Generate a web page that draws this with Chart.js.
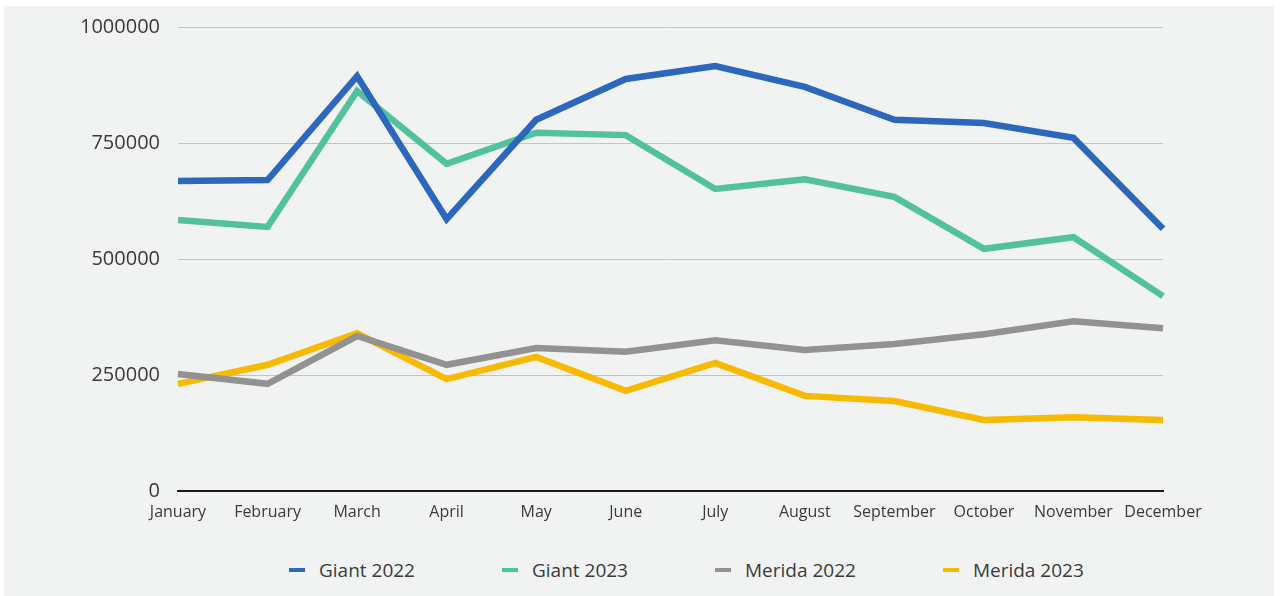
<!DOCTYPE html>
<html>
<head>
<meta charset="utf-8">
<script src="https://cdn.jsdelivr.net/npm/chart.js@4"></script>
<style>
  html, body { margin: 0; padding: 0; background: #ffffff; }
  #panel { position: absolute; left: 4px; top: 6px; width: 1270px; height: 590px; background: #f1f2f2; }
  #wrap { position: absolute; left: 0; top: 0; width: 1270px; height: 530px; }
  #legend { position: absolute; top: 551px; left: 285px; display: flex; font-family: "Open Sans", sans-serif; font-size: 19px; color: #3a3a3a; }
  .item { display: flex; align-items: center; margin-right: 87px; }
  .dash { width: 16px; height: 4px; margin-right: 14px; }
</style>
</head>
<body>
<div id="panel">
  <div id="wrap"><canvas id="grafico"></canvas></div>
  <div id="legend"></div>
</div>
<script>
var meses = ["January", "February", "March", "April", "May", "June", "July", "August", "September", "October", "November", "December"];
var giant2022 = [668000, 670000, 894000, 586000, 800000, 888000, 916000, 871000, 800000, 793000, 761000, 565000];
var giant2023 = [584000, 569000, 862000, 705000, 772000, 767000, 651000, 672000, 634000, 522000, 547000, 420000];
var merida2022 = [252000, 231000, 334000, 272000, 308000, 300000, 325000, 304000, 317000, 338000, 366000, 351000];
var merida2023 = [231000, 272000, 340000, 241000, 289000, 216000, 276000, 205000, 194000, 153000, 159000, 153000];
var nomes = ["Giant 2022", "Giant 2023", "Merida 2022", "Merida 2023"];
var cores = ["#2d66bd", "#52c19f", "#929292", "#f7ba00"];
var valoresY = [0, 250000, 500000, 750000, 1000000];

var series = [giant2022, giant2023, merida2022, merida2023];
var datasets = series.map(function(valores, i) {
    return {
        label: nomes[i],
        data: valores,
        borderColor: cores[i],
        backgroundColor: cores[i],
        borderWidth: 6.5,
        borderJoinStyle: "miter",
        pointRadius: 0,
        tension: 0,
        fill: false
    };
});

var ctx = document.getElementById("grafico").getContext("2d");
var myLineChart = new Chart(ctx, {
    type: "line",
    data: { labels: meses, datasets: datasets },
    options: {
        responsive: true,
        maintainAspectRatio: false,
        animation: false,
        layout: { padding: { top: 21, left: 0, right: 111, bottom: 0 } },
        plugins: { legend: { display: false }, tooltip: { enabled: false } },
        scales: {
            x: {
                offset: false,
                grid: { display: false, drawTicks: false },
                border: { display: true, color: "#1a1a1a", width: 2 },
                ticks: {
                    autoSkip: false, maxRotation: 0, padding: 12,
                    color: "#3a3a3a",
                    font: { family: "Open Sans", size: 16 }
                },
                afterFit: function(s) { s.height = 45; }
            },
            y: {
                min: 0, max: 1000000,
                afterBuildTicks: function(s) { s.ticks = valoresY.map(function(v) { return { value: v }; }); },
                grid: { color: "#c4c4c4", lineWidth: 1, drawTicks: false },
                border: { display: false },
                ticks: {
                    padding: 18,
                    color: "#3a3a3a",
                    font: { family: "Open Sans", size: 20 },
                    callback: function(v) { return String(v); }
                },
                afterFit: function(s) {
                    s.width = 174;
                    s.paddingTop = 0;
                    s.paddingBottom = 0;
                }
            }
        }
    }
});

// legenda em html
var legenda = document.getElementById("legend");
nomes.forEach(function(nome, i) {
    var item = document.createElement("div");
    item.className = "item";
    var d = document.createElement("span");
    d.className = "dash";
    d.style.background = cores[i];
    var t = document.createElement("span");
    t.textContent = nome;
    item.appendChild(d);
    item.appendChild(t);
    legenda.appendChild(item);
});
</script>
</body>
</html>
